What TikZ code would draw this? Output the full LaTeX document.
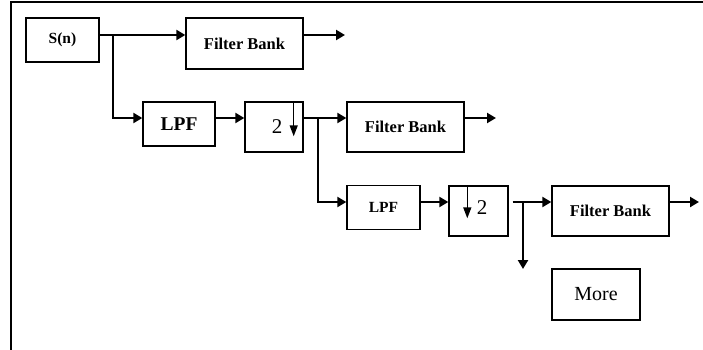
\documentclass[tikz,border=0pt]{standalone}
\usepackage{fontspec}
\setmainfont{Liberation Serif}
\usetikzlibrary{arrows.meta,calc}
\begin{document}
\begin{tikzpicture}[x=1pt,y=-1pt,
  box/.style={draw,line width=1.4pt,rectangle,inner sep=0pt},
  bl/.style={font=\fontsize{16.5}{18}\selectfont\bfseries},
  flow/.style={line width=2.7pt,-{Triangle[length=9pt,width=10pt]}},
  wire/.style={line width=2.7pt},
  dnarrow/.style={line width=1.4pt,-{Triangle[length=11pt,width=8pt]}},
  frame/.style={line width=1.8pt}]
\useasboundingbox (0,0) rectangle (703,350);

% outer frame (top and left edges)
\coordinate (fa) at (703,2);
\coordinate (fc) at (11,2);
\coordinate (fb) at (11,350);
\draw[frame] (fa) -- (fc) -- (fb);

% blocks
\node[box,minimum width=73pt,minimum height=44pt] (sn) at (62.5,40)
  {\fontsize{15.5}{17}\selectfont\bfseries S(n)};
\node[box,bl,minimum width=117pt,minimum height=51pt] (fb1) at (244.5,43.5) {Filter Bank};
\node[box,minimum width=72pt,minimum height=44pt] (lpf1) at (179,124)
  {\fontsize{19.5}{21}\selectfont\bfseries LPF};
\node[box,minimum width=58pt,minimum height=50pt] (ds1) at (274,127) {};
\node[box,bl,minimum width=117pt,minimum height=50pt] (fb2) at (405.5,127) {Filter Bank};
\node[box,minimum width=73pt,minimum height=44pt] (lpf2) at (383.5,207.5)
  {\fontsize{15.5}{17}\selectfont\bfseries LPF};
\node[box,minimum width=59pt,minimum height=50pt] (ds2) at (478.5,211) {};
\node[box,bl,minimum width=117pt,minimum height=50pt] (fb3) at (610.5,211) {Filter Bank};
\node[box,minimum width=88pt,minimum height=51pt] (more) at (596,294.5)
  {\fontsize{20}{22}\selectfont More};

% down-sampling labels
\node[font=\fontsize{21}{23}\selectfont] (ds1t) at (277,127) {2};
\node[font=\fontsize{21}{23}\selectfont] (ds2t) at (482,208) {2};
\draw[dnarrow] ([xshift=-10pt]ds1.north east) -- ++(0,35);
\draw[dnarrow] ([xshift=19pt]ds2.north west) -- ++(0,33);

% junctions and free ends
\coordinate (j1) at (113,35);
\coordinate (j2) at (318,118);
\coordinate (j3) at (523,202);
\coordinate (o1) at (345,35);
\coordinate (o2) at (496,118);
\coordinate (o3) at (699,202);
\coordinate (o4) at (523,269);

% connectors
\draw[line width=1.2pt] (sn.east |- j1) -- (j1);
\draw[flow] (j1) -- (j1 -| fb1.west);
\draw[flow] (j1) |- (lpf1.west |- j2);
\draw[flow] (fb1.east |- j1) -- (o1);
\draw[flow] (lpf1.east |- j2) -- (ds1.west |- j2);
\draw[wire] (ds1.east |- j2) -- (j2);
\draw[flow] (j2) -- (fb2.west |- j2);
\draw[flow] (fb2.east |- j2) -- (o2);
\draw[flow] (j2) |- (lpf2.west |- j3);
\draw[flow] (lpf2.east |- j3) -- (ds2.west |- j3);
\draw[wire] ($(ds2.east |- j3)+(4,0)$) -- (j3);
\draw[flow] (j3) -- (fb3.west |- j3);
\draw[flow] (fb3.east |- j3) -- (o3);
\draw[flow] (j3) -- (o4);
\end{tikzpicture}
\end{document}
